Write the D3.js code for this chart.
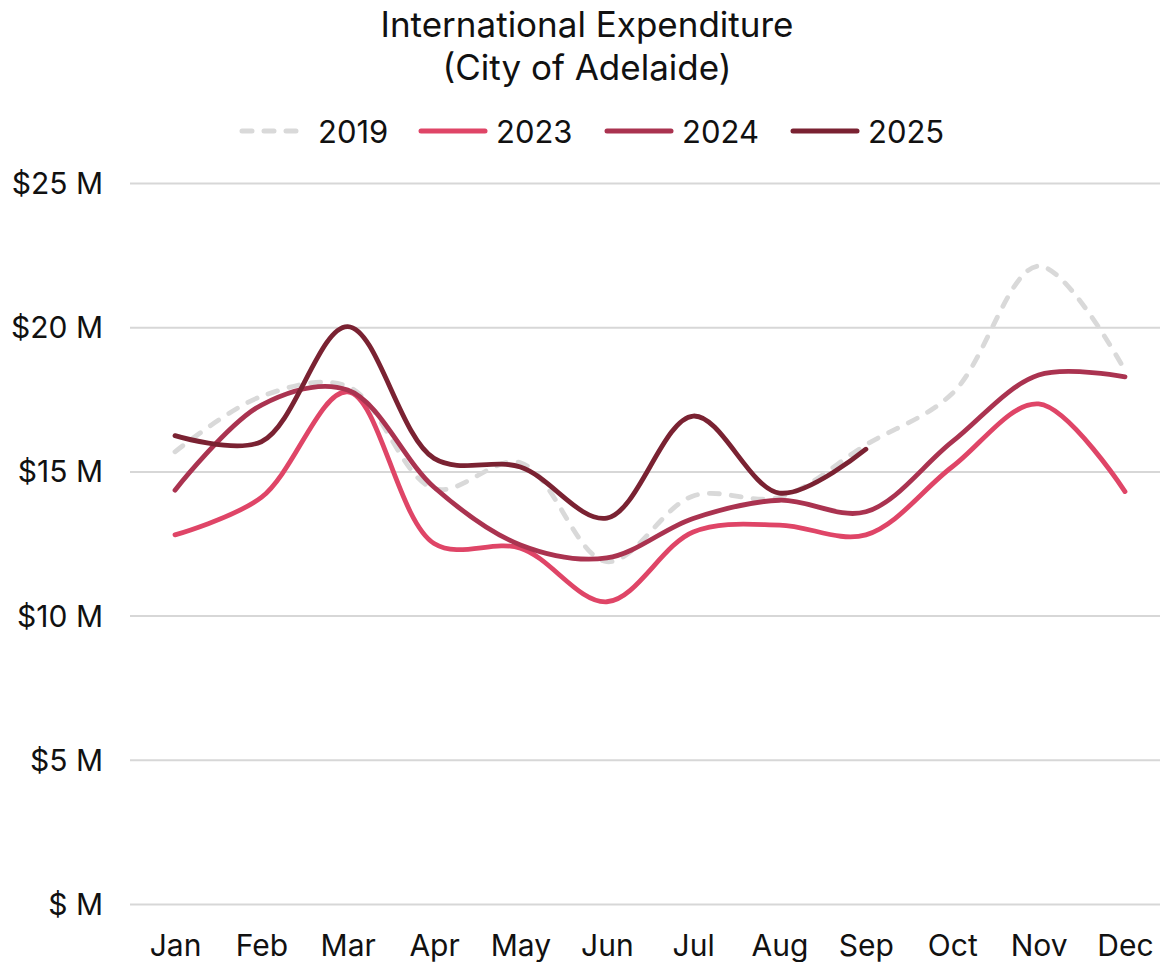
<!DOCTYPE html>
<html><head><meta charset="utf-8">
<script src="https://cdn.jsdelivr.net/npm/d3@7"></script>
<style>
body{margin:0;background:#fff;}
text{font-family:Inter,"Noto Sans",sans-serif;fill:#111;}
</style></head>
<body><svg id="c" width="1160" height="962"></svg>
<script>
const months = ["Jan","Feb","Mar","Apr","May","Jun","Jul","Aug","Sep","Oct","Nov","Dec"];
const seriesNames = ["2019","2023","2024","2025"];
const v2019 = [15.68,17.6,17.95,14.4,15.3,11.87,14.15,14.1,15.92,17.7,22.12,18.5];
const v2023 = [12.8,14.1,17.76,12.5,12.34,10.48,12.9,13.14,12.8,15.16,17.34,14.3];
const v2024 = [14.35,17.3,17.82,14.45,12.45,12.0,13.37,14.0,13.6,16.03,18.34,18.28];
const v2025 = [16.24,16.03,20.02,15.45,15.15,13.38,16.92,14.25,15.77];
const yTicks = [0,5,10,15,20,25];
const colors = ["#d9d9d9","#df4567","#aa3350","#7a2232"];

const svg = d3.select("#c");
const x = d3.scalePoint().domain(months).range([175,1125]);
const y = d3.scaleLinear().domain([0,25]).range([904,183]);

svg.append("text").attr("x",587).attr("y",37).attr("text-anchor","middle")
  .style("font-size","35px").text("International Expenditure");
svg.append("text").attr("x",587).attr("y",80).attr("text-anchor","middle")
  .style("font-size","35px").text("(City of Adelaide)");

// grid
const yAxis = d3.axisLeft(y).tickValues(yTicks).tickSize(-1030).tickFormat(d => "$" + (d===0?"":d) + " M");
const gy = svg.append("g").attr("transform","translate(130,0)").call(yAxis);
gy.select(".domain").remove();
gy.selectAll(".tick line").attr("stroke","#d7d7d7").attr("stroke-width",2);
gy.selectAll(".tick text").attr("x",-27).attr("dy","0.35em").style("font-size","30px").attr("fill","#111");

const xAxis = d3.axisBottom(x).tickSize(0);
const gx = svg.append("g").attr("transform","translate(0,904)").call(xAxis);
gx.select(".domain").remove();
gx.selectAll(".tick text").attr("y",41).attr("dy","0.35em").style("font-size","30px").attr("fill","#111");

const data = [v2019,v2023,v2024,v2025];
const line = d3.line().x((d,i)=>x(months[i])).y(d=>y(d)).curve(d3.curveCatmullRom.alpha(0.5));
data.forEach((vals,k)=>{
  const p = svg.append("path").datum(vals).attr("d",line).attr("fill","none")
    .attr("stroke",colors[k]).attr("stroke-width",4.8).attr("stroke-linecap","round").attr("stroke-linejoin","round");
  if(k===0) p.attr("stroke-dasharray","10 12");
});

// legend
const legX = [242,421,607,793];
seriesNames.forEach((n,k)=>{
  const g = svg.append("g");
  const l = g.append("line").attr("x1",legX[k]).attr("x2",legX[k]+64).attr("y1",131).attr("y2",131)
    .attr("stroke",colors[k]).attr("stroke-width",5).attr("stroke-linecap","round");
  if(k===0) l.attr("stroke-dasharray","10 12");
  g.append("text").attr("x",legX[k]+(k===0?76:75)).attr("y",132).attr("dy","0.35em").style("font-size","31px").text(n);
});
</script></body></html>
